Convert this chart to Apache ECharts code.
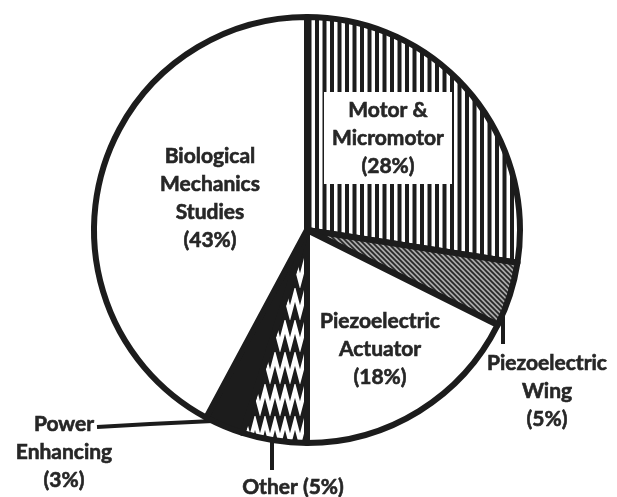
<!DOCTYPE html>
<html><head><meta charset="utf-8">
<script src="https://cdn.jsdelivr.net/npm/echarts@6/dist/echarts.min.js"></script>
<style>html,body{margin:0;padding:0;background:#fff}#c{width:617px;height:497px}</style>
</head><body><div id="c"></div>
<script>
// ---- data ----
const categories = ['Motor & Micromotor', 'Piezoelectric Wing', 'Piezoelectric Actuator', 'Other', 'Power Enhancing', 'Biological Mechanics Studies'];
const values = [28, 5, 18, 5, 3, 43];
const labelTexts = ['Motor &\nMicromotor\n(28%)', 'Piezoelectric\nWing\n(5%)', 'Piezoelectric\nActuator\n(18%)', 'Other (5%)', 'Power\nEnhancing\n(3%)', 'Biological\nMechanics\nStudies\n(43%)'];

// ---- patterns ----
function mk(w, h) { const c = document.createElement('canvas'); c.width = w; c.height = h; return c; }
function stripes() {
  const c = mk(15, 10), g = c.getContext('2d');
  g.fillStyle = '#fff'; g.fillRect(0, 0, 15, 10);
  g.fillStyle = '#1c1c1c'; g.fillRect(0, 0, 4, 10); g.fillRect(7.5, 0, 4, 10);
  return c;
}
function hatch() {
  const s = 5, c = mk(s, s), g = c.getContext('2d');
  g.fillStyle = '#a8a8a8'; g.fillRect(0, 0, s, s);
  g.strokeStyle = '#262626'; g.lineWidth = 1.7; g.beginPath();
  g.moveTo(-1, -1); g.lineTo(s + 1, s + 1);
  g.moveTo(-1, s - 1); g.lineTo(1, s + 1);
  g.moveTo(s - 1, -1); g.lineTo(s + 1, 1);
  g.stroke();
  return c;
}
function zig() {
  const c = mk(10, 32), g = c.getContext('2d');
  g.fillStyle = '#1c1c1c'; g.fillRect(0, 0, 10, 32);
  g.strokeStyle = '#fff'; g.lineWidth = 4; g.lineJoin = 'miter'; g.beginPath();
  g.moveTo(-5, 6); g.lineTo(0, 25); g.lineTo(5, 6); g.lineTo(10, 25); g.lineTo(15, 6);
  g.stroke();
  return c;
}
const fills = [
  { image: stripes(), repeat: 'repeat' },
  { image: hatch(), repeat: 'repeat' },
  '#ffffff',
  { image: zig(), repeat: 'repeat' },
  '#1c1c1c',
  '#ffffff'
];
const labelPos = [[388, 138], [547, 391], [380, 349], [293, 487], [64, 452], [210, 198]];
const linePts = {
  1: [[503, 302], [503, 322], [503, 344]],
  3: [[272, 442], [272, 455], [272, 470]],
  4: [[213, 421], [150, 424], [97, 427]]
};
const outside = { 1: true, 3: true, 4: true };

const data = categories.map((name, i) => {
  const item = {
    name, value: values[i],
    itemStyle: { color: fills[i] },
    label: { formatter: labelTexts[i], position: outside[i] ? 'outside' : 'inside' },
    labelLine: { show: !!outside[i] }
  };
  if (i === 0) {
    item.label.backgroundColor = '#fff';
    item.label.padding = [5, 5, 3, 5];
    item.label.width = 118;
  }
  return item;
});

const chart = echarts.init(document.getElementById('c'), null, { renderer: 'canvas' });
chart.setOption({
  animation: false,
  backgroundColor: '#fff',
  series: [{
    type: 'pie',
    center: [307, 230],
    radius: 213,
    startAngle: 90,
    clockwise: true,
    avoidLabelOverlap: false,
    itemStyle: { borderColor: '#1c1c1c', borderWidth: 6, borderJoin: 'round' },
    emphasis: { disabled: true },
    label: {
      show: true,
      color: '#262626',
      textBorderColor: '#262626',
      textBorderWidth: 0.6,
      fontFamily: 'Lato',
      fontWeight: 'bold',
      fontSize: 21,
      lineHeight: 28,
      align: 'center'
    },
    labelLine: {
      show: false,
      smooth: false,
      lineStyle: { color: '#1c1c1c', width: 4 }
    },
    labelLayout: function (p) {
      const i = p.dataIndex;
      const r = { x: labelPos[i][0], y: labelPos[i][1], align: 'center', verticalAlign: 'middle' };
      if (linePts[i]) r.labelLinePoints = linePts[i];
      return r;
    },
    data
  }]
});
</script>
</body></html>
